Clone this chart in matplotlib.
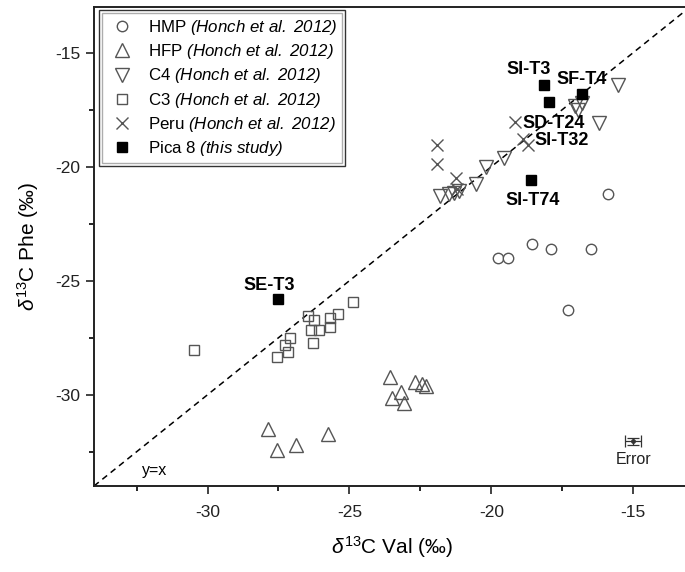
import matplotlib
matplotlib.use("Agg")
import matplotlib.pyplot as plt
from matplotlib.ticker import MultipleLocator
from matplotlib.patches import Rectangle

plt.rcParams['font.family'] = ['Liberation Sans', 'DejaVu Sans']
plt.rcParams['mathtext.fontset'] = 'custom'
plt.rcParams['mathtext.rm'] = 'Liberation Sans'
plt.rcParams['mathtext.it'] = 'Liberation Sans:italic'
plt.rcParams['mathtext.sf'] = 'Liberation Sans:italic'
plt.rcParams['mathtext.bf'] = 'Liberation Sans:bold'
plt.rcParams['axes.unicode_minus'] = False

# ---- data (δ13C Val, δ13C Phe) ----
hmp_x = [-15.9, -18.55, -17.9, -16.5, -19.75, -19.4, -17.3]
hmp_y = [-21.2, -23.4, -23.6, -23.6, -24.0, -24.0, -26.3]

hfp_x = [-27.87, -27.55, -26.9, -25.77, -23.57, -23.49, -23.2, -23.08, -22.7, -22.45, -22.3]
hfp_y = [-31.5, -32.4, -32.2, -31.7, -29.2, -30.15, -29.9, -30.36, -29.45, -29.55, -29.6]

c4_x = [-21.8, -21.5, -21.3, -21.15, -20.55, -20.2, -19.55, -17.05, -16.95, -16.8, -16.2, -15.55]
c4_y = [-21.3, -21.2, -21.15, -21.05, -20.75, -20.0, -19.6, -17.35, -17.5, -17.2, -18.1, -16.4]

c3_x = [-30.46, -26.47, -26.24, -26.36, -26.07, -25.68, -25.68, -25.39, -24.86,
        -27.08, -27.27, -27.18, -27.55, -26.28]
c3_y = [-28.05, -26.55, -26.73, -27.14, -27.14, -26.63, -27.04, -26.44, -25.94,
        -27.53, -27.8, -28.14, -28.34, -27.75]

peru_x = [-21.9, -21.9, -21.25, -21.2, -19.15, -18.9, -18.7]
peru_y = [-19.05, -19.9, -20.5, -21.0, -18.05, -18.8, -19.05]

pica_names = ['SI-T3', 'SF-T4', 'SD-T24', 'SI-T74', 'SE-T3']
pica_x = [-18.16, -16.81, -17.98, -18.61, -27.53]
pica_y = [-16.43, -16.82, -17.16, -20.58, -25.8]

# label anchor points for Pica 8 names
label_names = ['SI-T3', 'SF-T4', 'SD-T24', 'SI-T32', 'SI-T74', 'SE-T3']
label_x = [-18.69, -16.81, -17.81, -17.52, -18.55, -27.83]
label_y = [-15.73, -16.2, -18.11, -18.84, -21.47, -25.2]

err_x, err_y = -15.0, -32.04
err_dx, err_dy = 0.29, 0.15

xlim = (-34, -13)
ylim = (-34, -13)

fig = plt.figure(figsize=(6.85, 5.72), dpi=100)
ax = fig.add_axes([94/685, 1-486/572, 596/685, 479/572])

ax.plot(xlim, ylim, ls=(0, (4, 3)), color='black', lw=1.1, zorder=1)

ec = '#555555'
ms = 7.5
ax.plot(hmp_x, hmp_y, 'o', mfc='white', mec=ec, mew=1.0, ms=ms, ls='none',
        label=r'HMP $\mathsf{(Honch\ et\ al.\ 2012)}$', zorder=3)
ax.plot(hfp_x, hfp_y, '^', mfc='none', mec=ec, mew=1.0, ms=9.5, ls='none',
        label=r'HFP $\mathsf{(Honch\ et\ al.\ 2012)}$', zorder=3)
ax.plot(c4_x, c4_y, 'v', mfc='none', mec=ec, mew=1.0, ms=9.5, ls='none',
        label=r'C4 $\mathsf{(Honch\ et\ al.\ 2012)}$', zorder=3)
ax.plot(c3_x, c3_y, 's', mfc='none', mec=ec, mew=1.0, ms=7, ls='none',
        label=r'C3 $\mathsf{(Honch\ et\ al.\ 2012)}$', zorder=3)
ax.plot(peru_x, peru_y, 'x', color=ec, mew=1.0, ms=9, ls='none',
        label=r'Peru $\mathsf{(Honch\ et\ al.\ 2012)}$', zorder=3)
ax.plot(pica_x, pica_y, 's', color='black', ms=7, ls='none',
        label=r'Pica 8 $\mathsf{(this\ study)}$', zorder=4)

for n, x, y in zip(label_names, label_x, label_y):
    ax.text(x, y, n, fontsize=13, fontweight='bold', ha='center', va='center', zorder=5)

ax.errorbar([err_x], [err_y], xerr=[err_dx], yerr=[err_dy], fmt='o', ms=2.5,
            color='#333333', ecolor='#333333', elinewidth=0.9, capsize=4, capthick=0.9)
ax.text(err_x, err_y - 0.8, 'Error', fontsize=11.5, ha='center', va='center', color='#222222')
ax.text(-31.88, -33.33, 'y=x', fontsize=11.5, ha='center', va='center')

ax.set_xlim(*xlim)
ax.set_ylim(*ylim)
ax.xaxis.set_major_locator(MultipleLocator(5))
ax.xaxis.set_minor_locator(MultipleLocator(2.5))
ax.yaxis.set_major_locator(MultipleLocator(5))
ax.yaxis.set_minor_locator(MultipleLocator(2.5))
ax.tick_params(which='major', direction='out', length=6, width=1.2, labelsize=12.5, colors='#222222')
ax.tick_params(which='minor', direction='out', length=3.5, width=1.2)
ax.tick_params(axis='x', pad=8)
ax.tick_params(axis='y', pad=4)
for s in ax.spines.values():
    s.set_linewidth(1.4)
    s.set_color('#222222')

ax.set_xlabel(r'$\mathit{\delta}^{13}$C Val (‰)', fontsize=15, labelpad=10)
ax.set_ylabel(r'$\mathit{\delta}^{13}$C Phe (‰)', fontsize=15, labelpad=10)

leg = ax.legend(loc='upper left', bbox_to_anchor=(0.0135, 0.987), borderaxespad=0,
                fontsize=12.2, frameon=True, fancybox=False, handletextpad=0.6,
                labelspacing=0.3, borderpad=0.3, handlelength=1.8)
leg.get_frame().set_edgecolor('#999999')
leg.get_frame().set_linewidth(1.0)

# outer dark frame around the legend (double-line look)
fig.canvas.draw()
bb = leg.get_frame().get_window_extent(fig.canvas.get_renderer())
inv = fig.transFigure.inverted()
(x0, y0), (x1, y1) = inv.transform([(bb.x0 - 3, bb.y0 - 3), (bb.x1 + 3, bb.y1 + 3)])
fig.patches.append(Rectangle((x0, y0), x1 - x0, y1 - y0, transform=fig.transFigure,
                             fill=False, edgecolor='#333333', lw=1.0, zorder=10))

fig.savefig('out.png', dpi=100)
